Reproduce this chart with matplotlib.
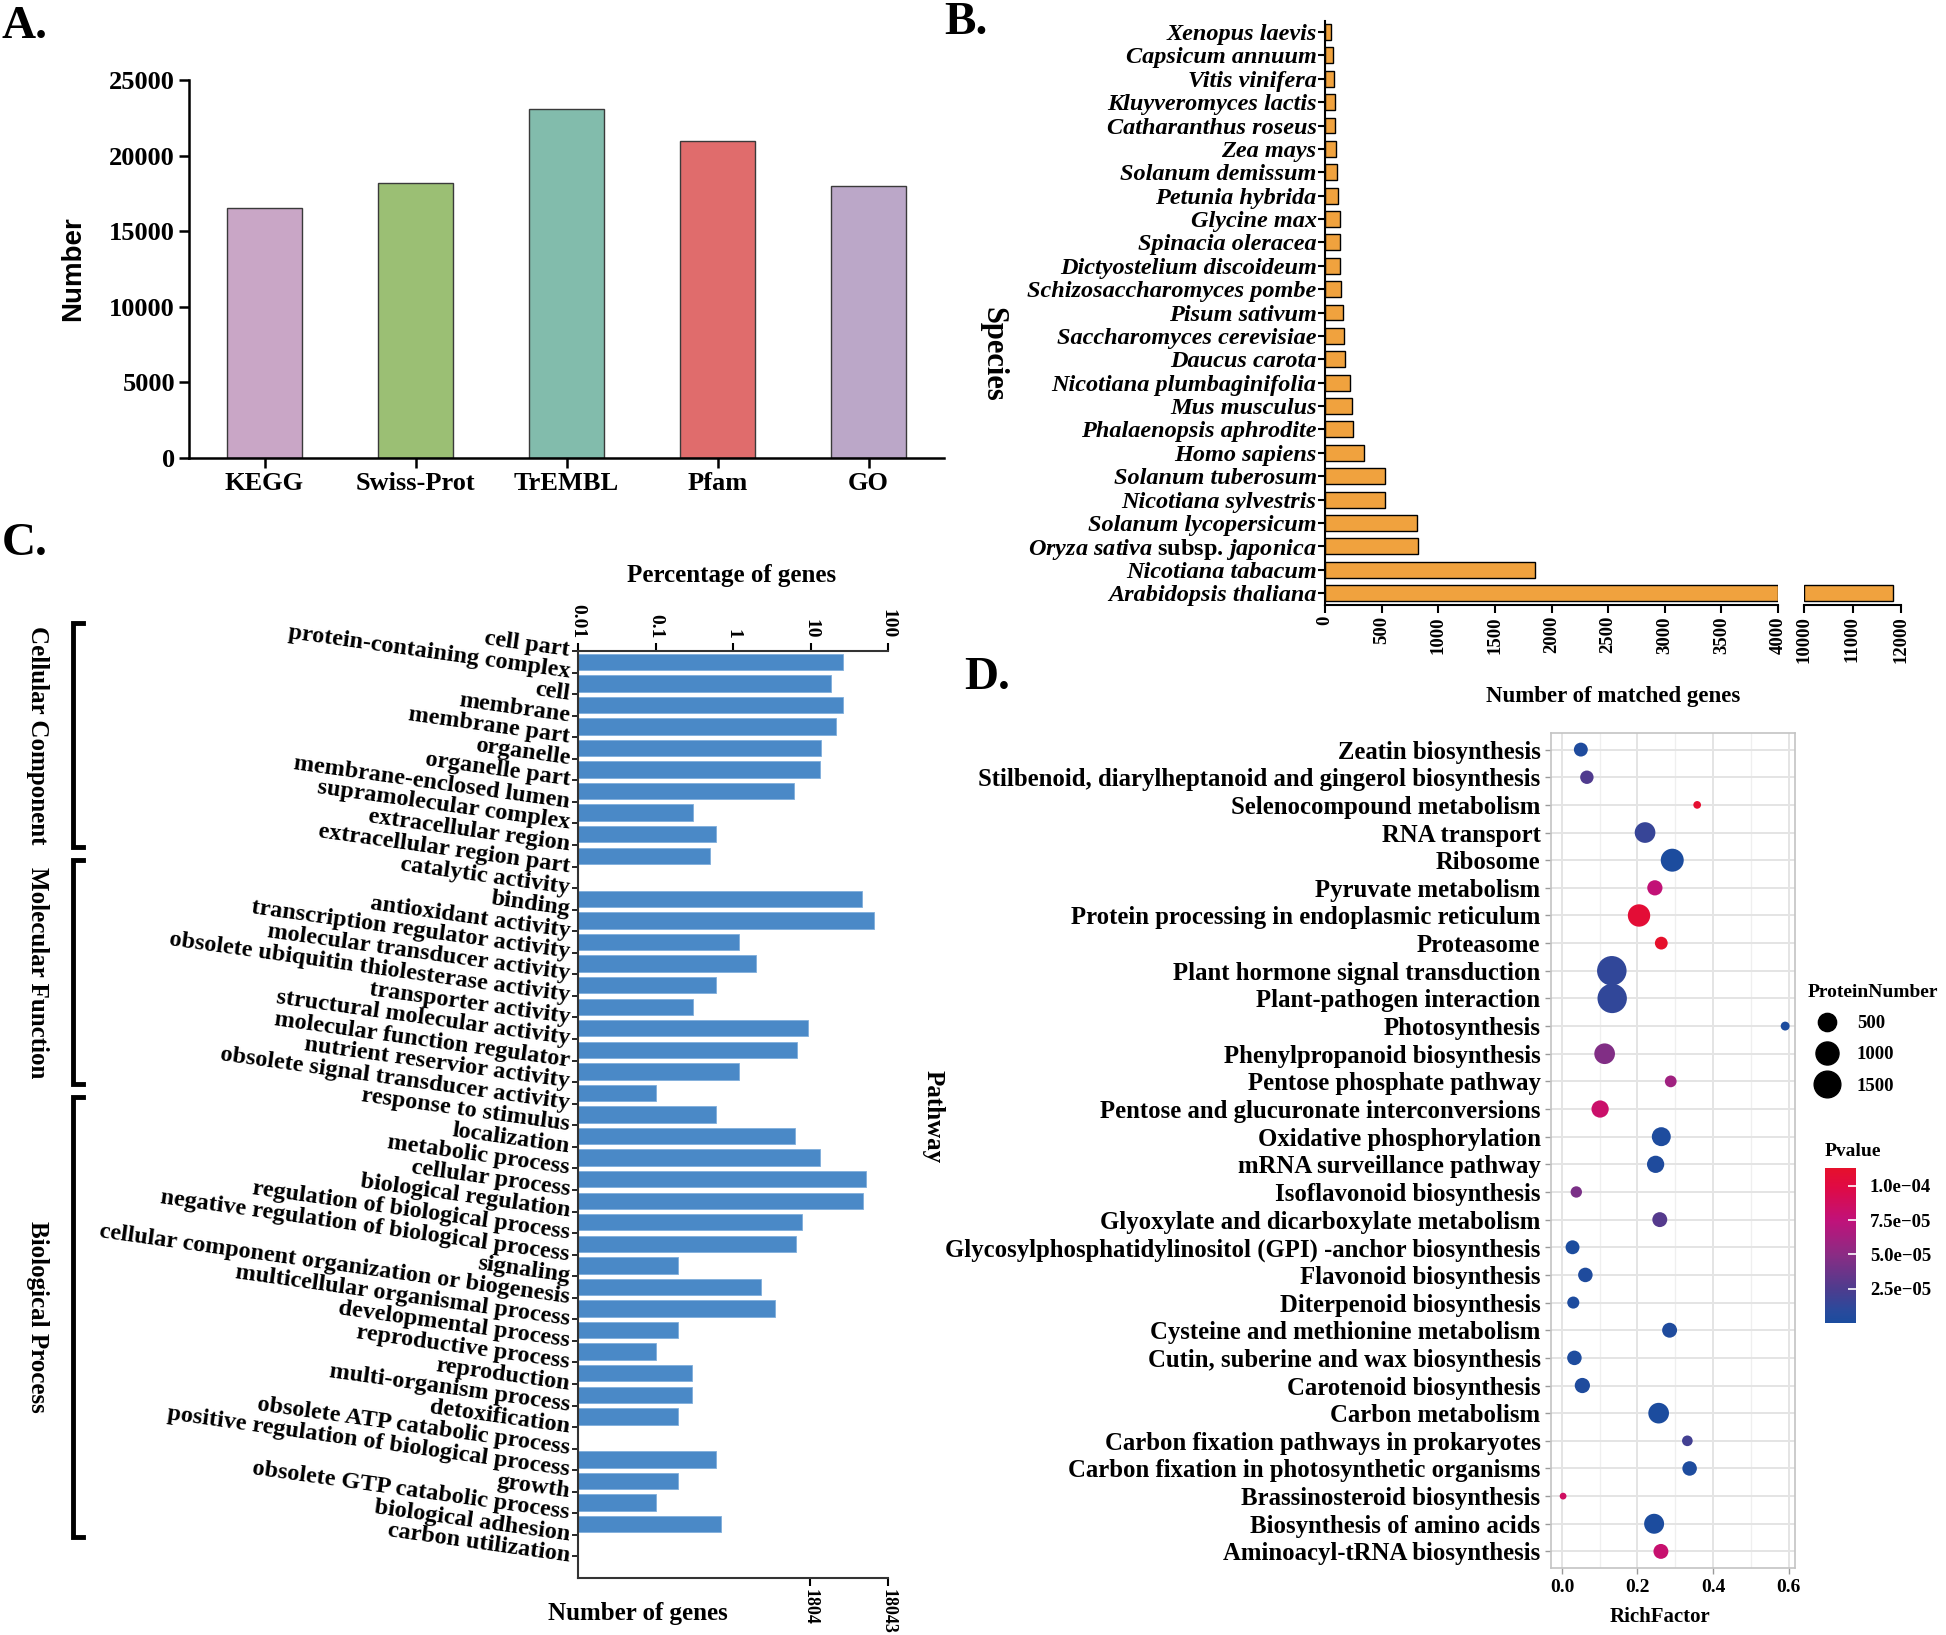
import numpy as np
import matplotlib
matplotlib.use('Agg')
import matplotlib.pyplot as plt
import matplotlib.transforms as mtransforms
from matplotlib.colors import LinearSegmentedColormap, Normalize
from matplotlib.lines import Line2D
from matplotlib.ticker import NullLocator, FuncFormatter

plt.rcParams['font.family'] = ['Liberation Serif', 'DejaVu Serif']
plt.rcParams['font.weight'] = 'bold'
plt.rcParams['mathtext.fontset'] = 'custom'
plt.rcParams['mathtext.rm'] = 'Liberation Serif:bold'
plt.rcParams['mathtext.it'] = 'Liberation Serif:italic:bold'
plt.rcParams['mathtext.bf'] = 'Liberation Serif:bold'

W, H = 1946, 1635

# ---------------- data ----------------
# A: annotation databases
db_names = ['KEGG', 'Swiss-Prot', 'TrEMBL', 'Pfam', 'GO']
db_counts = [16530, 18170, 23060, 20940, 18010]
db_colors = ['#C9A6C6', '#9BBF74', '#82BCAC', '#E06C6C', '#BBA7C8']

# B: species distribution (top to bottom)
species = ['Xenopus laevis', 'Capsicum annuum', 'Vitis vinifera', 'Kluyveromyces lactis',
           'Catharanthus roseus', 'Zea mays', 'Solanum demissum', 'Petunia hybrida',
           'Glycine max', 'Spinacia oleracea', 'Dictyostelium discoideum',
           'Schizosaccharomyces pombe', 'Pisum sativum', 'Saccharomyces cerevisiae',
           'Daucus carota', 'Nicotiana plumbaginifolia', 'Mus musculus',
           'Phalaenopsis aphrodite', 'Homo sapiens', 'Solanum tuberosum',
           'Nicotiana sylvestris', 'Solanum lycopersicum',
           r'$\mathit{Oryza\ sativa}$ subsp. $\mathit{japonica}$',
           'Nicotiana tabacum', 'Arabidopsis thaliana']
species_hits = [56, 67, 79, 84, 90, 101, 107, 112, 129, 129, 131, 140, 163, 168, 180,
                219, 241, 243, 342, 527, 533, 808, 825, 1850, 11830]

# C: GO classification
go_terms = ['cell part', 'protein-containing complex', 'cell', 'membrane', 'membrane part',
            'organelle', 'organelle part', 'membrane-enclosed lumen', 'supramolecular complex',
            'extracellular region', 'extracellular region part',
            'catalytic activity', 'binding', 'antioxidant activity',
            'transcription regulator activity', 'molecular transducer activity',
            'obsolete ubiquitin thiolesterase activity', 'transporter activity',
            'structural molecular activity', 'molecular function regulator',
            'nutrient reservior activity', 'obsolete signal transducer activity',
            'response to stimulus', 'localization', 'metabolic process', 'cellular process',
            'biological regulation', 'regulation of biological process',
            'negative regulation of biological process', 'signaling',
            'cellular component organization or biogenesis',
            'multicellular organismal process', 'developmental process',
            'reproductive process', 'reproduction', 'multi-organism process',
            'detoxification', 'obsolete ATP catabolic process',
            'positive regulation of biological process', 'growth',
            'obsolete GTP catabolic process', 'biological adhesion', 'carbon utilization']
go_percent = [26.5, 18.6, 26.5, 21.5, 13.8, 13.4, 6.05, 0.307, 0.605, 0.507, np.nan,
              46.4, 66.2, 1.19, 1.97, 0.605, 0.307, 9.15, 6.62, 1.19, 0.1, 0.605,
              6.24, 13.4, 52.2, 47.8, 7.67, 6.43, 0.197, 2.28, 3.45, 0.197, 0.1,
              0.298, 0.298, 0.197, np.nan, 0.605, 0.197, 0.1, 0.70, np.nan, np.nan]
go_groups = ['Cellular Component', 'Molecular Function', 'Biological Process']
go_group_sizes = [11, 11, 21]
go_total = 18043

# D: KEGG enrichment (top to bottom)
pathways = ['Zeatin biosynthesis',
            'Stilbenoid, diarylheptanoid and gingerol biosynthesis',
            'Selenocompound metabolism', 'RNA transport', 'Ribosome', 'Pyruvate metabolism',
            'Protein processing in endoplasmic reticulum', 'Proteasome',
            'Plant hormone signal transduction', 'Plant-pathogen interaction',
            'Photosynthesis', 'Phenylpropanoid biosynthesis', 'Pentose phosphate pathway',
            'Pentose and glucuronate interconversions', 'Oxidative phosphorylation',
            'mRNA surveillance pathway', 'Isoflavonoid biosynthesis',
            'Glyoxylate and dicarboxylate metabolism',
            'Glycosylphosphatidylinositol (GPI) -anchor biosynthesis',
            'Flavonoid biosynthesis', 'Diterpenoid biosynthesis',
            'Cysteine and methionine metabolism', 'Cutin, suberine and wax biosynthesis',
            'Carotenoid biosynthesis', 'Carbon metabolism',
            'Carbon fixation pathways in prokaryotes',
            'Carbon fixation in photosynthetic organisms', 'Brassinosteroid biosynthesis',
            'Biosynthesis of amino acids', 'Aminoacyl-tRNA biosynthesis']
rich_factor = [0.050, 0.066, 0.358, 0.220, 0.292, 0.246, 0.204, 0.263, 0.132, 0.133,
               0.591, 0.113, 0.288, 0.101, 0.263, 0.248, 0.038, 0.259, 0.028, 0.062,
               0.030, 0.285, 0.033, 0.054, 0.256, 0.332, 0.338, 0.003, 0.244, 0.262]
protein_number = [196, 170, 8, 731, 993, 273, 921, 141, 1950, 1930,
                  22, 731, 98, 417, 563, 417, 84, 254, 196, 230,
                  110, 254, 230, 273, 731, 61, 230, 5, 659, 254]
pvalue = [3e-6, 2.6e-5, 1.10e-4, 1.5e-5, 1e-6, 7.6e-5, 1.07e-4, 1.13e-4, 1.2e-5, 1.2e-5,
          1e-6, 4.6e-5, 6.0e-5, 8.2e-5, 2e-6, 3e-6, 4.3e-5, 2.8e-5, 1e-6, 3e-6,
          2e-6, 3e-6, 2e-6, 3e-6, 1e-6, 2.0e-5, 2e-6, 8.6e-5, 1e-6, 8.0e-5]
size_legend = [500, 1000, 1500]
p_ticks = [2.5e-5, 5e-5, 7.5e-5, 1e-4]


def box(l, t, r, b):
    return [l / W, 1 - b / H, (r - l) / W, (b - t) / H]


def ftext(x, y, s, **kw):
    fig.text(x / W, 1 - y / H, s, **kw)


fig = plt.figure(figsize=(W / 100, H / 100), dpi=100)

# ---------------- A ----------------
axA = fig.add_axes(box(189, 80, 944, 458))
xa = np.arange(len(db_names))
axA.bar(xa, db_counts, width=0.5, color=db_colors, edgecolor='#3a3a3a', linewidth=1)
axA.set_xlim(-0.5, len(db_names) - 0.5)
axA.set_ylim(0, 25000)
axA.set_yticks(range(0, 25001, 5000))
axA.set_xticks(xa, db_names)
axA.spines[['top', 'right']].set_visible(False)
axA.spines[['left', 'bottom']].set_linewidth(1.8)
axA.tick_params(axis='both', labelsize=19, width=1.8, length=7, pad=3)
ftext(73, 269, 'Number', rotation=90, ha='center', va='center', fontsize=20,
      family='Liberation Sans', fontweight='bold')

# ---------------- B (broken axis) ----------------
axB = fig.add_axes(box(1325, 21, 1778, 605))
axB2 = fig.add_axes(box(1804, 21, 1901, 605))
yb = np.arange(len(species))
hits = np.array(species_hits)
cut_lo, cut_hi, top = 4000, 10000, 12000
axB.barh(yb, np.minimum(hits, cut_lo), height=0.68, color='#F0A23E',
         edgecolor='black', linewidth=1)
big = hits > cut_hi
axB2.barh(yb[big], hits[big] - cut_hi, left=cut_hi, height=0.68, color='#F0A23E',
          edgecolor='black', linewidth=1)
for ax in (axB, axB2):
    ax.set_ylim(len(species) - 0.49, -0.47)
    ax.spines[['top', 'right']].set_visible(False)
    ax.spines[['left', 'bottom']].set_linewidth(1.5)
    ax.tick_params(axis='x', labelsize=13.5, rotation=90, width=1.5, length=6, pad=2)
axB.set_xlim(0, cut_lo)
axB.set_xticks(range(0, cut_lo + 1, 500))
axB2.set_xlim(cut_hi, top)
axB2.set_xticks(range(cut_hi, top + 1, 1000))
axB2.spines['left'].set_visible(False)
axB2.set_yticks([])
axB.set_yticks(yb, species)
axB.tick_params(axis='y', labelsize=17.5, width=1.5, length=5, pad=1)
for lab in axB.get_yticklabels():
    lab.set_fontstyle('normal' if lab.get_text().startswith('$') else 'italic')
ftext(993, 354, 'Species', rotation=270, ha='center', va='center', fontsize=22)
ftext(1613, 696, 'Number of matched genes', ha='center', va='center', fontsize=16.5)

# ---------------- C ----------------
axC = fig.add_axes(box(578, 651, 888, 1578))
yc = np.arange(len(go_terms))
pct = np.array(go_percent, dtype=float)
has = ~np.isnan(pct)
axC.barh(yc[has] + 0.5, pct[has] - 0.01, left=0.01, height=0.76, color='#4A89C7',
         edgecolor='#7FAEDC', linewidth=0.6)
axC.set_xscale('log')
axC.set_xlim(0.01, 100)
axC.set_ylim(len(go_terms), 0)
axC.set_yticks(yc)
axC.set_yticklabels(go_terms, rotation=-8, ha='right', va='center',
                    rotation_mode='anchor', fontsize=17.5)

axC2 = axC.twiny()
axC2.set_xscale('log')
axC2.set_xlim(0.01 / 100 * go_total, go_total)
axC2.xaxis.set_ticks_position('bottom')
axC2.xaxis.set_label_position('bottom')
axC2.set_xticks([round(go_total / 10), go_total],
                [str(round(go_total / 10)), str(go_total)])
axC2.xaxis.set_minor_locator(NullLocator())
axC2.tick_params(axis='x', labelsize=13, rotation=270, width=1.5, length=6, pad=2)
axC2.spines[['top', 'left', 'right']].set_visible(False)
axC2.spines['bottom'].set_linewidth(1.5)
axC2.spines['bottom'].set_color('#333333')

# percentage axis on top (after twiny, which moves ticks to the bottom)
axC.xaxis.tick_top()
axC.xaxis.set_label_position('top')
axC.set_xticks([0.01, 0.1, 1, 10, 100], ['0.01', '0.1', '1', '10', '100'])
axC.xaxis.set_minor_locator(NullLocator())
axC.tick_params(axis='x', labelsize=14, rotation=270, width=1.5, length=6, pad=3)
axC.tick_params(axis='y', width=1.2, length=4, pad=2)
axC.spines[['right', 'bottom']].set_visible(False)
axC.spines[['left', 'top']].set_linewidth(1.5)
axC.spines[['left', 'top']].set_color('#333333')

trans = mtransforms.blended_transform_factory(axC.transAxes, axC.transData)
bx, tx, lx = -1.629, -1.597, -1.742
start = 0
for name, n in zip(go_groups, go_group_sizes):
    t0, t1 = start - 1.3, start + n - 1 - 0.9
    axC.plot([tx, bx, bx, tx], [t0, t0, t1, t1], transform=trans, clip_on=False,
             color='black', lw=3.5, solid_joinstyle='miter')
    axC.text(lx, (t0 + t1) / 2, name, transform=trans, rotation=270, ha='center',
             va='center', fontsize=18)
    start += n
ftext(732, 575, 'Percentage of genes', ha='center', va='center', fontsize=18)
ftext(638, 1613, 'Number of genes', ha='center', va='center', fontsize=18)

# ---------------- D ----------------
axD = fig.add_axes(box(1551, 733, 1795, 1568))
yd = np.arange(len(pathways))
pn = np.array(protein_number, dtype=float)
n_lo, n_hi = pn.min(), pn.max()


def dot_size(n):
    d_px = 6.8 + 22.7 * np.sqrt((np.asarray(n, dtype=float) - n_lo) / (n_hi - n_lo))
    return (d_px * 72 / 100) ** 2


p_cmap = LinearSegmentedColormap.from_list('pv', [
    (0.0, '#1B4C9E'), (0.08, '#2A4A9C'), (0.22, '#4E3C8E'), (0.44, '#8A2C84'),
    (0.66, '#C0127A'), (0.88, '#E00A44'), (1.0, '#E6102C')])
p_norm = Normalize(vmin=0, vmax=max(pvalue))
sc = axD.scatter(rich_factor, yd, s=dot_size(pn), c=pvalue, cmap=p_cmap, norm=p_norm,
                 linewidths=0, zorder=3)
axD.set_xlim(-0.029, 0.617)
axD.set_ylim(len(pathways) - 0.4, -0.6)
axD.set_xticks([0, 0.2, 0.4, 0.6], ['0.0', '0.2', '0.4', '0.6'])
axD.set_xticks([0.1, 0.3, 0.5], minor=True)
axD.set_yticks(yd, pathways, fontsize=17.8)
axD.grid(which='major', color='#E4E4E4', lw=1.4)
axD.grid(which='minor', axis='x', color='#EFEFEF', lw=0.9)
axD.set_axisbelow(True)
for s in axD.spines.values():
    s.set_color('#C4C4C4')
    s.set_linewidth(1.2)
axD.tick_params(axis='both', color='#9A9A9A', length=4, width=1)
axD.tick_params(axis='x', labelsize=14, pad=4)
axD.tick_params(axis='x', which='minor', length=0)
ftext(933, 1117, 'Pathway', rotation=270, ha='center', va='center', fontsize=18)
ftext(1660, 1617, 'RichFactor', ha='center', va='center', fontsize=15)

handles = [Line2D([], [], ls='none', marker='o', color='black',
                  markersize=np.sqrt(dot_size(v))) for v in size_legend]
leg = axD.legend(handles, [str(v) for v in size_legend], title='ProteinNumber',
                 loc='upper left', bbox_to_anchor=(1808 / W, 1 - 984 / H),
                 bbox_transform=fig.transFigure, frameon=False, fontsize=13.5,
                 title_fontsize=14, labelspacing=0.75, handletextpad=0.6,
                 borderpad=0, borderaxespad=0)
leg._legend_box.align = 'left'

cax = fig.add_axes(box(1825, 1168, 1856, 1323))
cb = fig.colorbar(sc, cax=cax, ticks=p_ticks)
cb.outline.set_visible(False)
cb.ax.yaxis.set_major_formatter(FuncFormatter(lambda v, _: f'{v:.1e}'.replace('-', '\u2212')))
cb.ax.tick_params(direction='in', color='white', length=6, width=1.2, labelsize=13.5, pad=10)
ftext(1825, 1151, 'Pvalue', ha='left', va='center', fontsize=14)

# ---------------- panel letters ----------------
ftext(2, 6, 'A.', ha='left', va='top', fontsize=34)
ftext(944, 2, 'B.', ha='left', va='top', fontsize=34)
ftext(2, 523, 'C.', ha='left', va='top', fontsize=34)
ftext(964, 657, 'D.', ha='left', va='top', fontsize=34)

fig.savefig('out.png', dpi=100)
